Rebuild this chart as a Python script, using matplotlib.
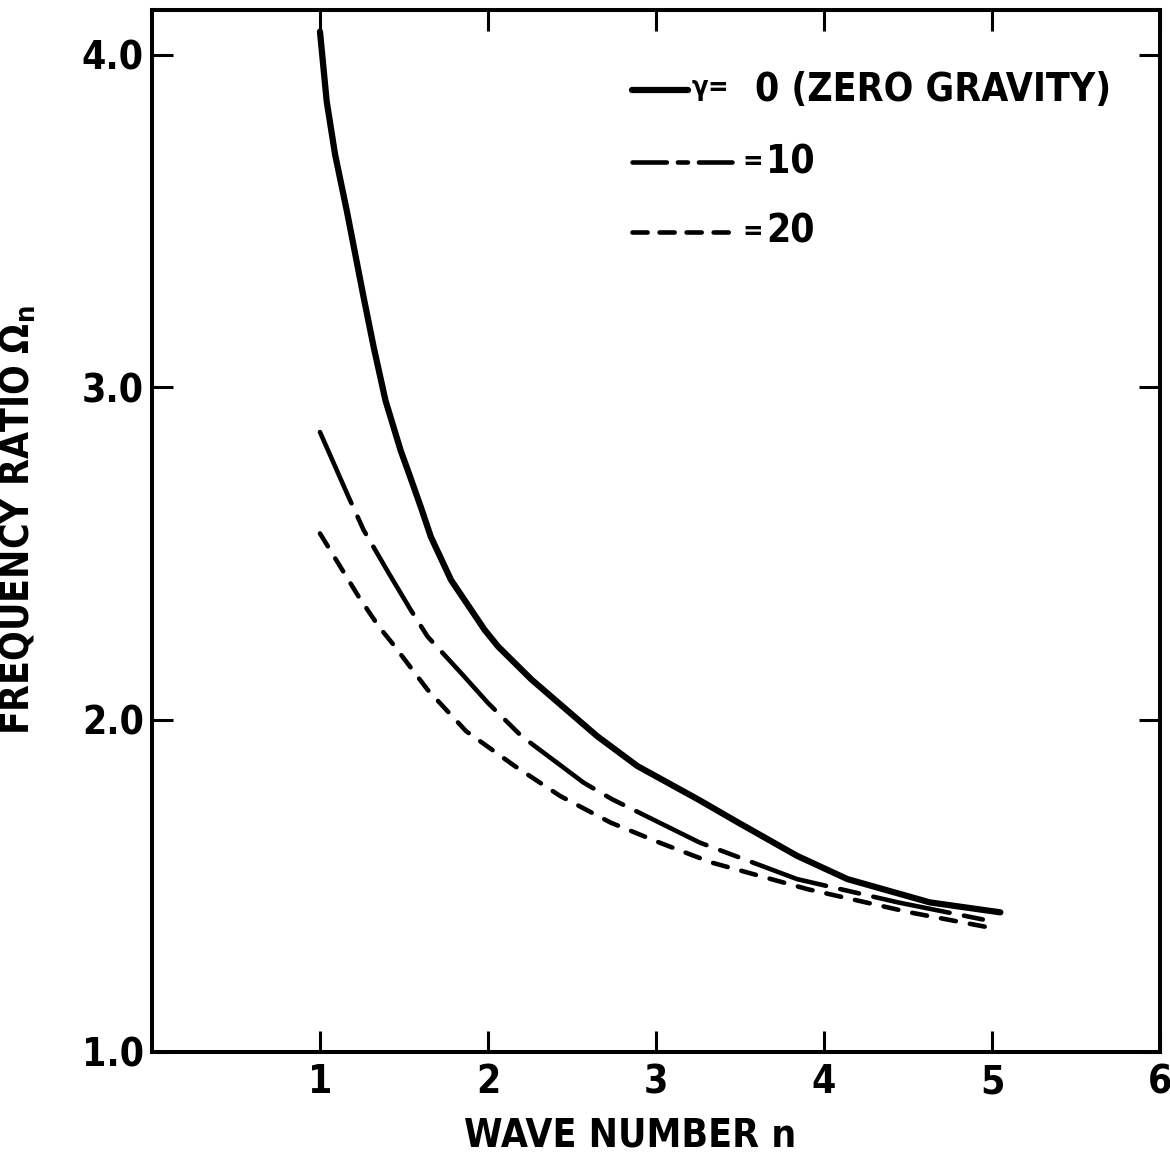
import matplotlib
matplotlib.use('Agg')
import matplotlib.pyplot as plt

# Frequency ratio vs. wave number
n_gamma0 = [1.00, 1.04, 1.09, 1.16, 1.21, 1.26, 1.32, 1.39, 1.48, 1.53, 1.60, 1.66,
            1.78, 1.98, 2.06, 2.26, 2.65, 2.89, 3.25, 3.49, 3.84, 4.14, 4.63, 5.05]
omega_gamma0 = [4.07, 3.86, 3.70, 3.53, 3.40, 3.27, 3.12, 2.96, 2.81, 2.74, 2.64, 2.55,
                2.42, 2.27, 2.22, 2.12, 1.95, 1.86, 1.76, 1.69, 1.59, 1.52, 1.45, 1.42]

n_gamma10 = [1.00, 1.17, 1.26, 1.41, 1.54, 1.64, 1.84, 2.00, 2.20, 2.57, 2.74, 3.26,
             3.84, 4.44, 5.03]
omega_gamma10 = [2.865, 2.67, 2.57, 2.44, 2.33, 2.25, 2.14, 2.05, 1.95, 1.81, 1.76, 1.63,
                 1.52, 1.45, 1.39]

n_gamma20 = [1.00, 1.23, 1.35, 1.43, 1.64, 1.87, 2.16, 2.43, 2.73, 3.02, 3.33, 3.90,
             4.51, 5.03]
omega_gamma20 = [2.56, 2.37, 2.28, 2.23, 2.09, 1.965, 1.86, 1.77, 1.69, 1.63, 1.57, 1.49,
                 1.42, 1.37]

x_ticks = [1, 2, 3, 4, 5, 6]
y_ticks = [1.0, 2.0, 3.0, 4.0]
y_tick_labels = ['1.0', '2.0', '3.0', '4.0']

plt.rcParams['font.family'] = ['DejaVu Sans']
plt.rcParams['font.stretch'] = 'condensed'
plt.rcParams['font.weight'] = 'bold'
plt.rcParams['axes.labelweight'] = 'bold'
plt.rcParams['mathtext.default'] = 'regular'

FS = 28

fig = plt.figure(figsize=(11.7, 11.57), dpi=100)
ax = fig.add_axes([0.1299, 0.0908, 0.8615, 0.9006])

# curves
ax.plot(n_gamma0, omega_gamma0, color='black', lw=4.5, solid_capstyle='round',
        solid_joinstyle='round')
ax.plot(n_gamma10, omega_gamma10, color='black', lw=3.3,
        linestyle=(0, (17, 3.2, 4.2, 3.2)), dash_capstyle='round')
ax.plot(n_gamma20, omega_gamma20, color='black', lw=3.3,
        linestyle=(0, (3.3, 3.1)), dash_capstyle='round')

ax.set_xlim(0, 6)
ax.set_ylim(1.0, 4.135)
ax.set_xticks(x_ticks)
ax.set_xticklabels([str(t) for t in x_ticks], fontsize=FS)
ax.set_yticks(y_ticks)
ax.set_yticklabels(y_tick_labels, fontsize=FS)
ax.tick_params(direction='in', length=15, width=2.2, top=True, right=True, pad=8)
ax.tick_params(axis='y', pad=6)
for s in ax.spines.values():
    s.set_linewidth(2.9)

ax.set_xlabel('WAVE NUMBER n', fontsize=FS, fontweight='bold')
ax.xaxis.set_label_coords(0.474, -0.062)
ax.set_ylabel('FREQUENCY RATIO $\\Omega_n$', fontsize=FS, fontweight='bold')
ax.yaxis.set_label_coords(-0.113, 0.51)

# hand-drawn style key
key_y = [0.923, 0.854, 0.787]
key_styles = [('-', 4.5), ((0, (7.5, 2.4, 2.2, 2.4)), 3.3), ((0, (3.3, 2.6)), 3.3)]
key_x_end = [0.532, 0.575, 0.575]
key_eq_x = [0.535, 0.586, 0.586]
key_eq = ['$\\gamma$=', '=', '=']
key_val_x = [0.598, 0.609, 0.609]
key_vals = ['0 (ZERO GRAVITY)', '10', '20']
for y, (ls, lw), xe, ex, eq, vx, v in zip(key_y, key_styles, key_x_end, key_eq_x,
                                          key_eq, key_val_x, key_vals):
    ax.plot([0.476, xe], [y, y], transform=ax.transAxes, color='black', lw=lw,
            linestyle=ls, dash_capstyle='round', solid_capstyle='round')
    ax.text(ex, y, eq, transform=ax.transAxes, fontsize=FS * 0.7, va='center', ha='left')
    ax.text(vx, y, v, transform=ax.transAxes, fontsize=FS, va='center', ha='left')

fig.savefig('out.png', dpi=100)
plt.close(fig)
